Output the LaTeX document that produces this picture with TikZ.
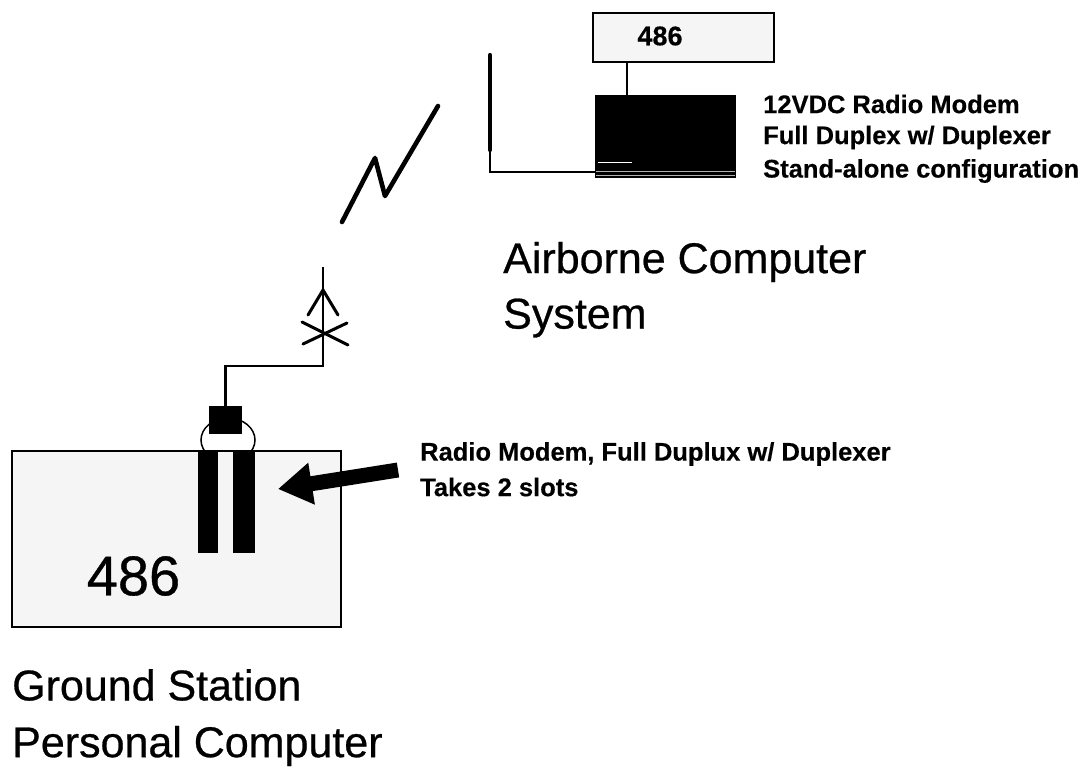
\documentclass[tikz,border=0pt]{standalone}
\usepackage{fontspec}
\setmainfont{Liberation Sans}
\newfontfamily\heavysans{Liberation Sans}[FakeBold=0.6]
\newfontfamily\heavybold{Liberation Sans Bold}[FakeBold=0.4]
\usetikzlibrary{arrows.meta,shapes.geometric}
\begin{document}
\begin{tikzpicture}[x=1pt,y=-1pt,
  lbl/.style={font=\heavybold\fontsize{25.5}{30}\selectfont,anchor=west,inner sep=0pt},
  big/.style={font=\heavysans\fontsize{43}{50}\selectfont,anchor=west,inner sep=0pt},
  pcbox/.style={draw,line width=1.8pt,fill=gray!8,minimum width=329pt,minimum height=176pt,inner sep=0pt},
  slotbar/.style={fill=black,minimum width=20pt,minimum height=101pt,inner sep=0pt},
  blk/.style={fill=black,inner sep=0pt},
  wire/.style={line width=2.2pt},
  antl/.style={line width=3pt,line cap=round},
  bolt/.style={line width=4.6pt,line cap=round,line join=round}]
\useasboundingbox (0,0) rectangle (1084,773);
% ---------- ground station ----------
\node[draw,line width=1.5pt,ellipse,minimum width=54pt,minimum height=44pt,inner sep=0pt] (ring) at (228,440) {};
\node[pcbox] (pc) at (176.5,539) {};
\node[slotbar] (slotL) at (208,502) {};
\node[slotbar,minimum width=22pt] (slotR) at (244,502) {};
\node[blk,minimum width=33pt,minimum height=28pt] (modem) at (225.5,420) {};
\node[font=\heavysans\fontsize{56}{60}\selectfont,inner sep=0pt] (n486) at (133.5,576) {486};
\coordinate (antbase) at (323,366);
\coordinate (anttop) at (323,267);
\draw[wire] (modem.north) |- (antbase) -- (anttop);
\draw[antl] (308,315) -- (323,290) -- (338,315);
\draw[antl] (302,322) -- (348,345);
\draw[antl] (303,344) -- (347,323);
% arrow to slots
\node[lbl] (rm1) at (420,454) {Radio Modem, Full Duplux w/ Duplexer};
\node[lbl] (rm2) at (420,487) {Takes 2 slots};
\coordinate (arrtail) at (398,470);
\coordinate (arrtip) at (278,489);
\draw[line width=15pt,-{Triangle[length=34pt,width=40pt]}] (arrtail) -- (arrtip);
% lightning
\draw[bolt] (342,222) -- (375,158) -- (385,196) -- (438,106);
% ---------- airborne ----------
\node[draw,line width=1.8pt,fill=gray!8,minimum width=181pt,minimum height=49pt,inner sep=0pt] (box486) at (683.5,37.5) {};
\node[font=\heavybold\fontsize{27}{30}\selectfont,inner sep=0pt] at (660,36) {486};
\node[blk,minimum width=141pt,minimum height=83pt] (modem2) at (665.5,136.5) {};
\draw[white,line width=0.8pt] (598,162) -- (632,162);
\draw[gray!60,line width=0.6pt] (596,171) -- (735,171);
\draw[gray!60,line width=0.6pt] (596,175) -- (735,175);
\draw[wire] ([xshift=35pt]box486.south west) -- ([xshift=35pt]box486.south west |- modem2.north);
\coordinate (ant2top) at (490,55);
\draw[line width=4.2pt,line cap=round] (ant2top) -- (490,150);
\draw[wire] (ant2top) |- ([yshift=6pt]modem2.south west);
\node[lbl] (t1) at (763,104) {12VDC Radio Modem};
\node[lbl] (t2) at (763,137.5) {Full Duplex w/ Duplexer};
\node[lbl] (t3) at (763,171) {Stand-alone configuration};
\node[big] (air1) at (503,262) {Airborne Computer};
\node[big] (air2) at (503,318) {System};
\node[big] (gs1) at (12,685) {Ground Station};
\node[big] (gs2) at (12,746) {Personal Computer};
\end{tikzpicture}
\end{document}
